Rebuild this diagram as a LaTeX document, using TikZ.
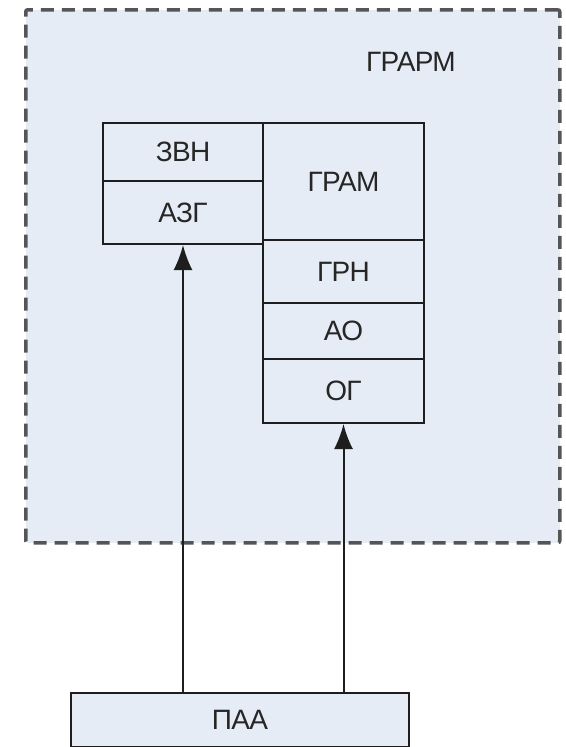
\documentclass[tikz,border=0pt]{standalone}
\usepackage{fontspec}
\setmainfont{Liberation Sans}[LetterSpace=-2.5]
\usetikzlibrary{arrows.meta}
\definecolor{boxfill}{HTML}{E6ECF5}
\definecolor{lineC}{HTML}{1E1E1E}
\definecolor{dashC}{HTML}{555555}
\definecolor{txtC}{HTML}{262626}
\tikzset{
  cell/.style={draw=lineC, line width=2pt, fill=boxfill, text=txtC,
    font=\fontsize{28}{30}\selectfont, inner sep=0pt, anchor=north west},
  arr/.style={draw=lineC, line width=2pt, -{Latex[length=25pt,width=19pt]}},
  lbl/.style={text=txtC, font=\fontsize{28}{30}\selectfont}
}
\newcommand{\cellbox}[6]{% name, x1, y1, x2, y2, text
  \node[cell, minimum width={(#4-#2)*1pt}, minimum height={(#5-#3)*1pt}] (#1) at (#2,#3) {#6};}
\begin{document}
\begin{tikzpicture}[x=1pt,y=-1pt]
\useasboundingbox (0,0) rectangle (565,747);
\fill[white] (0,0) rectangle (565,747);
% outer dashed group
\node[draw=dashC, line width=3.5pt, dash pattern=on 13pt off 8pt, fill=boxfill,
  rounded corners=2pt, minimum width=534pt, minimum height=533pt, inner sep=0pt,
  anchor=north west] (grarm) at (24,8) {};
\node[lbl] (grarmlbl) at (411,62) {ГРАРМ};
% left column
\cellbox{zvn}{102}{122}{262}{180}{ЗВН}
\cellbox{azg}{102}{180}{262}{243}{АЗГ}
% right column
\cellbox{gram}{262}{122}{423}{239}{ГРАМ}
\cellbox{grn}{262}{239}{423}{302}{ГРН}
\cellbox{ao}{262}{302}{423}{358}{АО}
\cellbox{og}{262}{358}{423}{422}{ОГ}
% bottom
\cellbox{paa}{70}{692}{408}{746}{ПАА}
% arrows
\draw[arr] (azg.south |- paa.north) -- (azg.south);
\draw[arr] (og.south |- paa.north) -- (og.south);
\end{tikzpicture}
\end{document}
